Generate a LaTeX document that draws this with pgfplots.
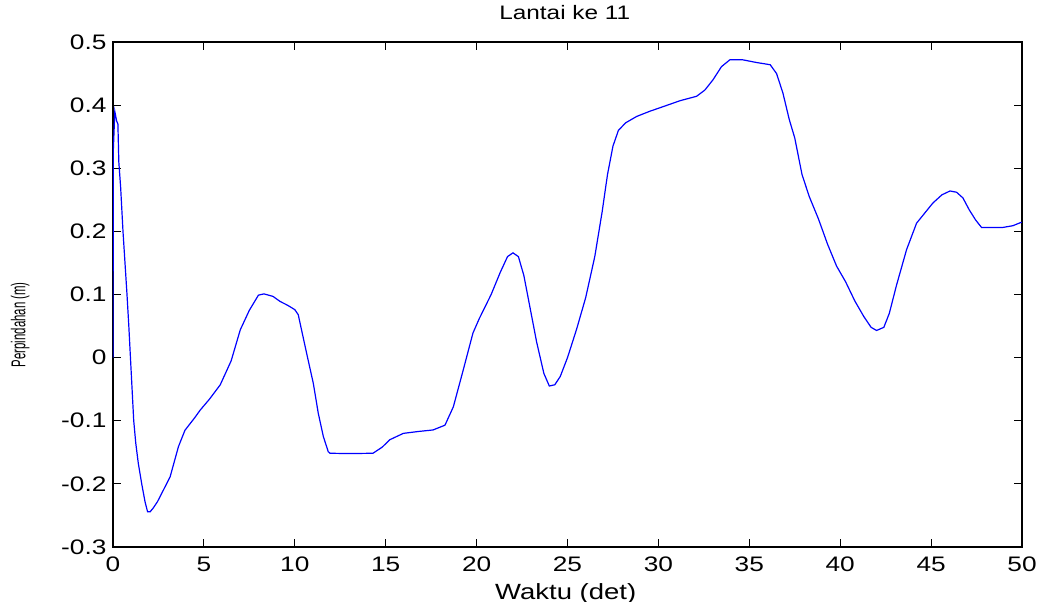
\documentclass[border=0pt]{standalone}
\usepackage{fontspec}
\setmainfont{Liberation Sans}[FakeStretch=1.25]
\newfontfamily\ylfont{Liberation Sans}
\usepackage{pgfplots}
\pgfplotsset{compat=1.18}
\begin{document}
\begin{tikzpicture}
\path[use as bounding box] (-113pt,-55pt) rectangle (931pt,547pt);
\begin{axis}[
  at={(0pt,0pt)}, anchor=south west,
  scale only axis, width=909pt, height=505pt,
  xmin=0, xmax=50, ymin=-0.3, ymax=0.5,
  xtick={0,5,10,15,20,25,30,35,40,45,50},
  xticklabels={0,5,10,15,20,25,30,35,40,45,50},
  ytick={-0.3,-0.2,-0.1,0,0.1,0.2,0.3,0.4,0.5},
  yticklabels={-0.3,-0.2,-0.1,0,0.1,0.2,0.3,0.4,0.5},
  tick align=inside,
  major tick length=8pt,
  tick style={black, line width=0.9pt},
  axis line style={black, line width=1.6pt},
  tick label style={font=\fontsize{21}{24}\selectfont},
  xticklabel style={anchor=base, yshift=-24pt},
  yticklabel style={xshift=-3pt},
  title={Lantai ke 11},
  title style={font=\fontsize{19.5}{22}\selectfont, at={(axis description cs:0.497,1)}, anchor=base, yshift=17pt},
  xlabel={Waktu (det)},
  xlabel style={font=\fontsize{22}{25}\selectfont, at={(axis description cs:0.498,0)}, anchor=base, yshift=-52pt},
  ylabel={\scalebox{0.57}[1]{\ylfont\fontsize{20}{23}\selectfont Perpindahan (m)}},
  ylabel style={at={(axis description cs:-0.102,0.44)}, anchor=center},
]
\addplot[color={rgb,255:red,0;green,0;blue,255}, line width=1.2pt, sharp plot, mark=none] coordinates {
(0,0) (0.02,0.33) (0.1,0.39) (0.2,0.375) (0.27,0.37) (0.32,0.31) (0.42,0.27)
(0.55,0.2) (0.66,0.15) (0.77,0.1) (0.87,0.05) (0.96,0.0) (1.05,-0.05)
(1.14,-0.1) (1.25,-0.135) (1.39,-0.167) (1.58,-0.2) (1.76,-0.228) (1.9,-0.244) (2.05,-0.244)
(2.22,-0.238) (2.45,-0.228) (2.68,-0.215) (3.14,-0.189) (3.6,-0.141)
(3.96,-0.115) (4.5,-0.095) (4.8,-0.083) (5.3,-0.066) (5.9,-0.043)
(6.5,-0.005) (7.0,0.044) (7.5,0.075) (8.0,0.099) (8.3,0.101) (8.8,0.097)
(9.19,0.089) (9.6,0.083) (10.0,0.076) (10.19,0.068) (10.37,0.044) (10.65,0.007)
(11.02,-0.041) (11.29,-0.088) (11.57,-0.125) (11.84,-0.149) (11.94,-0.1515)
(13.0,-0.152) (14.3,-0.1515) (14.8,-0.142) (15.23,-0.13) (15.97,-0.12)
(16.8,-0.117) (17.6,-0.1146) (18.26,-0.107) (18.72,-0.078) (19.27,-0.019)
(19.8,0.039) (20.15,0.062) (20.8,0.1) (21.3,0.135) (21.7,0.16) (22.0,0.166)
(22.3,0.16) (22.6,0.13) (22.9,0.085) (23.3,0.025) (23.7,-0.025) (24.0,-0.045)
(24.3,-0.043) (24.6,-0.03) (25.0,0.0) (25.5,0.045) (26.0,0.095) (26.5,0.16)
(26.9,0.23) (27.2,0.29) (27.5,0.335) (27.8,0.36) (28.2,0.372) (28.8,0.382)
(29.5,0.39) (30.3,0.398) (31.19,0.407) (32.1,0.414) (32.56,0.424) (33.0,0.44)
(33.47,0.461) (33.94,0.472) (34.6,0.472) (35.4,0.4675) (36.15,0.464)
(36.5,0.45) (36.85,0.419) (37.2,0.377) (37.5,0.348) (37.9,0.29) (38.3,0.255)
(38.8,0.22) (39.3,0.18) (39.8,0.145) (40.3,0.12) (40.8,0.09) (41.3,0.065)
(41.7,0.048) (42.0,0.043) (42.4,0.048) (42.7,0.07) (43.1,0.115) (43.65,0.171)
(44.2,0.213) (45.1,0.245) (45.6,0.258) (46.04,0.264) (46.4,0.262) (46.75,0.253)
(47.1,0.234) (47.45,0.218) (47.78,0.206) (48.9,0.206) (49.5,0.209) (49.98,0.2146)
};
\end{axis}
\end{tikzpicture}
\end{document}
